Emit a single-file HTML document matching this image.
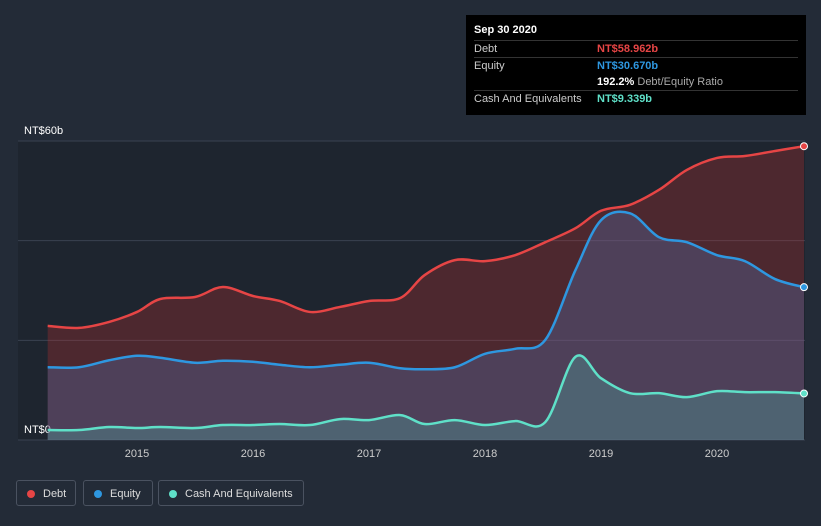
<!DOCTYPE html>
<html><head><meta charset="utf-8">
<style>
body{margin:0;background:#232b37;font-family:"Liberation Sans",sans-serif;}
#wrap{position:relative;width:821px;height:526px;overflow:hidden;background:#232b37;}
.tt{position:absolute;left:466px;top:15px;width:340px;height:100px;background:#000;color:#ccc;font-size:11px;}
.tt .row{position:absolute;left:8px;right:8px;height:16px;border-top:1px solid #333;}
.tt .l{position:absolute;left:0;top:2px;}
.tt .v{position:absolute;left:123px;top:2px;font-weight:bold;}
.leg{position:absolute;top:480px;height:26px;border:1px solid #4a5260;border-radius:3px;color:#ddd;font-size:11px;line-height:26px;box-sizing:border-box;padding-left:26px;}
.leg i{position:absolute;left:10px;top:9px;width:8px;height:8px;border-radius:50%;}
</style></head><body>
<div id="wrap">
<svg id="svg" width="821" height="526" style="position:absolute;left:0;top:0"></svg>
<div class="tt">
<div style="position:absolute;left:8px;top:9px;color:#fff;font-weight:bold;font-size:11px">Sep 30 2020</div>
<div class="row" style="top:25px"><span class="l">Debt</span><span class="v" style="color:#e64545">NT$58.962b</span></div>
<div class="row" style="top:42px"><span class="l">Equity</span><span class="v" style="color:#2e97e0">NT$30.670b</span></div>
<div class="row" style="top:59px;border-top:none"><span class="v" style="color:#fff">192.2% <span style="color:#aaa;font-weight:normal">Debt/Equity Ratio</span></span></div>
<div class="row" style="top:75px"><span class="l">Cash And Equivalents</span><span class="v" style="color:#5fe0c8">NT$9.339b</span></div>
</div>
<div class="leg" style="left:16px;width:60px"><i style="background:#e64545"></i>Debt</div>
<div class="leg" style="left:83px;width:70px"><i style="background:#2e97e0"></i>Equity</div>
<div class="leg" style="left:158px;width:146px"><i style="background:#5fe0c8"></i>Cash And Equivalents</div>
</div>
<script>
const dates=[2014.23,2014.5,2014.76,2015,2015.2,2015.5,2015.74,2016,2016.23,2016.49,2016.75,2017,2017.27,2017.48,2017.74,2018,2018.26,2018.52,2018.78,2019,2019.25,2019.5,2019.74,2020,2020.24,2020.5,2020.75];
const debt=[22.9,22.5,23.7,25.7,28.3,28.7,30.7,28.9,27.9,25.7,26.7,27.9,28.5,33.1,36.1,35.9,37.1,39.7,42.5,46,47.2,50.2,54.2,56.6,57,58,58.96];
const equity=[14.6,14.6,16,16.9,16.5,15.5,15.9,15.7,15.1,14.6,15.1,15.5,14.4,14.2,14.6,17.3,18.3,20.1,34.1,44.1,45.5,40.7,39.7,37.1,35.9,32.3,30.67];
const cash=[2,2,2.6,2.4,2.6,2.4,3,3,3.2,3,4.2,4,5,3.2,4,3,3.8,3.6,16.7,12.4,9.4,9.4,8.6,9.8,9.6,9.6,9.34];
const yTicks=[0,20,40,60];
const yLabels={0:"NT$0",60:"NT$60b"};
const xTicks=[2015,2016,2017,2018,2019,2020];
const X=d=>137+(d-2015)*116, Y=v=>440-v*4.983;
const svg=document.getElementById('svg'),NS='http://www.w3.org/2000/svg';
function mk(t,a,name){const e=document.createElementNS(NS,t);for(const k in a)e.setAttribute(k,a[k]);


svg.appendChild(e);return e;}
mk('rect',{x:18,y:141,width:787,height:299,fill:'#1e252f'},'plot-bg');
yTicks.forEach(t=>{mk('line',{x1:18,x2:805,y1:Y(t),y2:Y(t),stroke:'#3a4250','stroke-width':1},'gridline');
if(yLabels[t]){const tx=mk('text',{x:24,y:Y(t)-7,fill:'#fff','font-size':11},'y-tick-label');tx.textContent=yLabels[t];}});
xTicks.forEach(t=>{const tx=mk('text',{x:X(t),y:457,fill:'#ccc','font-size':11,'text-anchor':'middle'},'x-tick-label');tx.textContent=t;});
function path(vals){const p=dates.map((d,i)=>[X(d),Y(vals[i])]);let s='M'+p[0];
for(let i=0;i<p.length-1;i++){const a=p[i-1]||p[i],b=p[i],c=p[i+1],d=p[i+2]||c;
s+=' C'+(b[0]+(c[0]-a[0])/6)+','+(b[1]+(c[1]-a[1])/6)+' '+(c[0]-(d[0]-b[0])/6)+','+(c[1]-(d[1]-b[1])/6)+' '+c;}return s;}
const base=' L'+X(dates[dates.length-1])+','+Y(0)+' L'+X(dates[0])+','+Y(0)+' Z';
[[debt,'#e64545','rgba(200,50,50,0.28)','debt'],[equity,'#2e97e0','rgba(80,110,170,0.35)','equity'],[cash,'#5fe0c8','rgba(80,180,170,0.3)','cash']].forEach(([v,c,f,n])=>{
mk('path',{d:path(v)+base,fill:f},n+'-area');
mk('path',{d:path(v),fill:'none',stroke:c,'stroke-width':2.5},n+'-line');
mk('circle',{cx:X(dates[dates.length-1]),cy:Y(v[v.length-1]),r:3.5,fill:c,stroke:'#fff','stroke-width':1},n+'-end-point');});
</script>
</body></html>
